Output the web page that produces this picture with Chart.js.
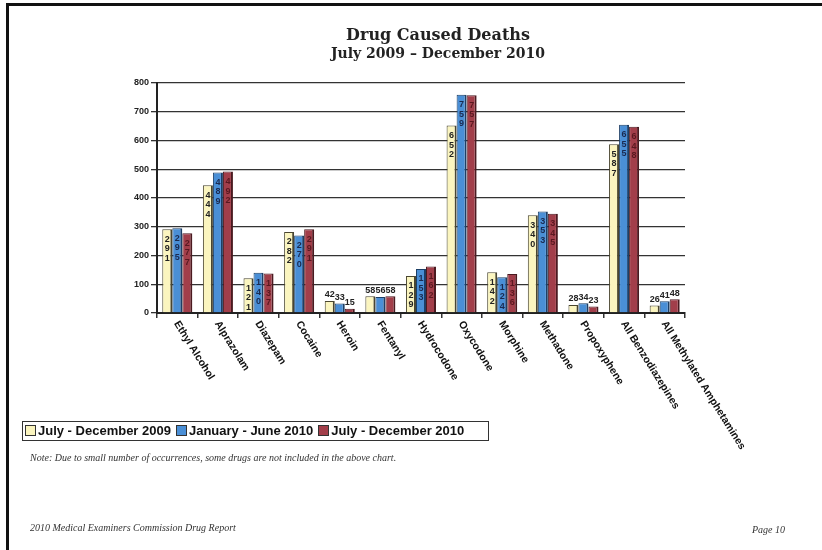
<!DOCTYPE html>
<html>
<head>
<meta charset="utf-8">
<script src="https://cdn.jsdelivr.net/npm/chart.js@4.4.0/dist/chart.umd.min.js"></script>
<style>
  html, body { margin: 0; padding: 0; background: #fff; }
  #page { position: relative; width: 822px; height: 550px; overflow: hidden; background: #fff; }
  #page:before { content: ''; position: absolute; left: 6px; top: 3px; right: -10px; bottom: -10px;
    border-left: 3px solid #111; border-top: 3px solid #111; }
  #myChart { position: absolute; left: 0; top: 0; }
  .title { position: absolute; left: 0; width: 876px; text-align: center;
    font-family: 'DejaVu Serif', 'Liberation Serif', serif; font-weight: bold; color: #222; }
  #legend { position: absolute; left: 22px; top: 421px; width: 463px; height: 18px;
    border: 1px solid #333; font: bold 13px 'Liberation Sans', Arial, sans-serif; color: #111;
    white-space: nowrap; line-height: 18px; padding-left: 2px; }
  #legend span.box { display: inline-block; width: 9px; height: 9px; border: 1px solid #333;
    vertical-align: -1px; margin-right: 2px; }
  #legend span.item { margin-right: 5px; }
  .note { position: absolute; font-family: 'Liberation Serif', 'DejaVu Serif', serif;
    font-style: italic; font-size: 10px; color: #333; }
</style>
</head>
<body>
<div id="page">
  <canvas id="myChart" width="822" height="550"></canvas>
  <div class="title" style="top:25px;font-size:16px;">Drug Caused Deaths</div>
  <div class="title" style="top:45px;font-size:14px;">July 2009 – December 2010</div>
  <div id="legend"></div>
  <div class="note" style="left:30px;top:452px;">Note: Due to small number of occurrences, some drugs are not included in the above chart.</div>
  <div class="note" style="left:30px;top:522px;">2010 Medical Examiners Commission Drug Report</div>
  <div class="note" style="left:752px;top:524px;">Page 10</div>
</div>
<script>
const drugs = ['Ethyl Alcohol', 'Alprazolam', 'Diazepam', 'Cocaine', 'Heroin', 'Fentanyl',
  'Hydrocodone', 'Oxycodone', 'Morphine', 'Methadone', 'Propoxyphene',
  'All Benzodiazepines', 'All Methylated Amphetamines'];
const seriesNames = ['July - December 2009', 'January - June 2010', 'July - December 2010'];
const julDec2009 = [291, 444, 121, 282, 42, 58, 129, 652, 142, 340, 28, 587, 26];
const janJun2010 = [295, 489, 140, 270, 33, 56, 153, 759, 124, 353, 34, 655, 41];
const julDec2010 = [277, 492, 137, 291, 15, 58, 162, 757, 136, 345, 23, 648, 48];
const yTicks = [0, 100, 200, 300, 400, 500, 600, 700, 800];

const fills = ['#fbf5bf', '#4a8fd6', '#a23e4a'];
const edges = ['#4a4630', '#1d3f66', '#4a1a20'];
const digitColors = ['#222', '#1a2a50', '#5a1820'];

// legend as html
const legendEl = document.getElementById('legend');
seriesNames.forEach(function (name, i) {
  const item = document.createElement('span');
  item.className = 'item';
  item.innerHTML = '<span class="box" style="background:' + fills[i] + '"></span>' + name;
  legendEl.appendChild(item);
});

const valueLabels = {
  id: 'valueLabels',
  afterDatasetsDraw(chart) {
    const ctx = chart.ctx;
    ctx.save();
    ctx.font = 'bold 9px "Liberation Sans", Arial, sans-serif';
    ctx.textAlign = 'center';
    ctx.textBaseline = 'middle';
    chart.data.datasets.forEach(function (ds, di) {
      const meta = chart.getDatasetMeta(di);
      meta.data.forEach(function (bar, i) {
        const v = ds.data[i];
        const s = String(v);
        if (v >= 100) {
          ctx.fillStyle = digitColors[di];
          for (let k = 0; k < s.length; k++) {
            ctx.fillText(s[k], bar.x, bar.y + 10 + k * 9.5);
          }
        } else {
          ctx.fillStyle = '#222';
          ctx.fillText(s, bar.x, bar.y - 6);
        }
      });
    });
    ctx.restore();
  }
};

const slantedLabels = {
  id: 'slantedLabels',
  afterDraw(chart) {
    const ctx = chart.ctx;
    const xs = chart.scales.x;
    ctx.save();
    ctx.font = 'bold 10.5px "Liberation Sans", Arial, sans-serif';
    ctx.fillStyle = '#111';
    ctx.textAlign = 'left';
    ctx.textBaseline = 'middle';
    drugs.forEach(function (name, i) {
      const x = xs.getPixelForTick(i);
      ctx.save();
      ctx.translate(x - 1, xs.top + 9);
      ctx.rotate(58 * Math.PI / 180);
      ctx.fillText(name, 0, 0);
      ctx.restore();
    });
    ctx.restore();
  }
};

new Chart(document.getElementById('myChart'), {
  type: 'bar',
  data: {
    labels: drugs,
    datasets: [julDec2009, janJun2010, julDec2010].map(function (vals, i) {
      return {
        label: seriesNames[i],
        data: vals,
        backgroundColor: fills[i],
        borderColor: edges[i],
        borderWidth: { top: 1, left: 1, right: 2, bottom: 0 },
        borderSkipped: 'bottom',
        barPercentage: 1,
        categoryPercentage: 0.74
      };
    })
  },
  options: {
    responsive: false,
    animation: false,
    layout: { padding: { left: 100, right: 137, top: 83, bottom: 0 } },
    plugins: {
      legend: { display: false },
      title: { display: false },
      tooltip: { enabled: false }
    },
    scales: {
      x: {
        ticks: { display: false },
        grid: { drawOnChartArea: false, offset: true, tickLength: 5, color: '#333', lineWidth: 1.5 },
        border: { color: '#222', width: 2 },
        afterFit(scale) { scale.height = 237; }
      },
      y: {
        min: 0,
        max: 800,
        afterBuildTicks(scale) { scale.ticks = yTicks.map(function (v) { return { value: v }; }); },
        ticks: {
          color: '#222',
          padding: 2,
          font: { family: '"Liberation Sans", Arial, sans-serif', size: 9, weight: 'bold' }
        },
        grid: { color: '#333', lineWidth: 1.3, tickLength: 6 },
        border: { color: '#222', width: 2 },
        afterFit(scale) { scale.width = 57; }
      }
    }
  },
  plugins: [valueLabels, slantedLabels]
});
</script>
</body>
</html>
